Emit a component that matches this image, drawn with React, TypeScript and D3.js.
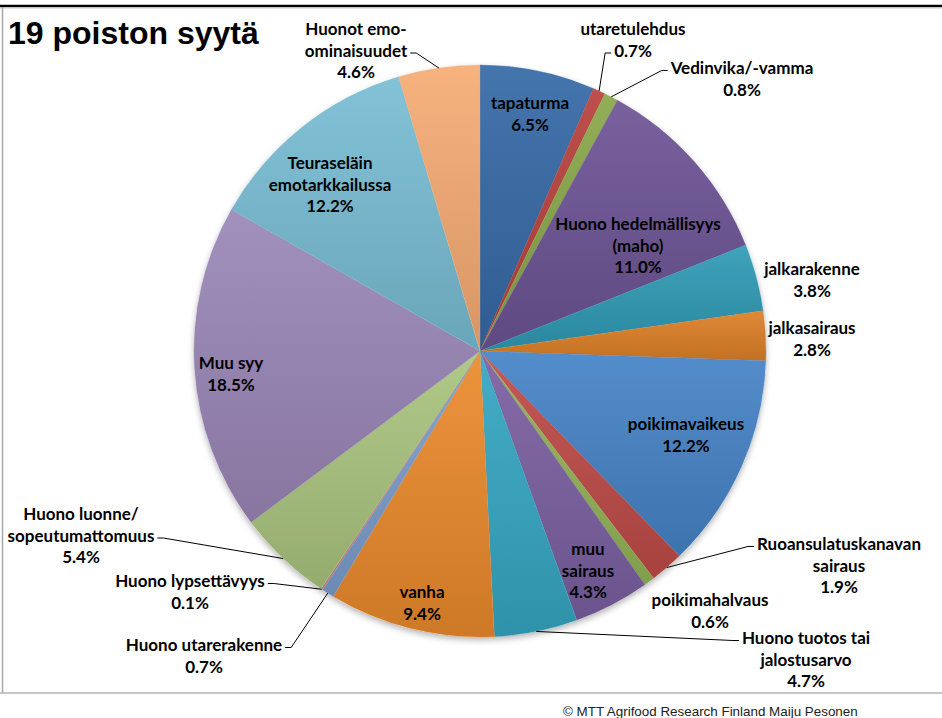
import React, { useEffect, useRef } from 'react';
import * as d3 from 'd3';

// ---- data ----
const categories = [
  'tapaturma', 'utaretulehdus', 'Vedinvika/-vamma', 'Huono hedelmällisyys (maho)',
  'jalkarakenne', 'jalkasairaus', 'poikimavaikeus', 'Ruoansulatuskanavan sairaus',
  'poikimahalvaus', 'muu sairaus', 'Huono tuotos tai jalostusarvo', 'vanha',
  'Huono utarerakenne', 'Huono lypsettävyys', 'Huono luonne/ sopeutumattomuus',
  'Muu syy', 'Teuraseläin emotarkkailussa', 'Huonot emo-ominaisuudet',
];
const values = [6.5, 0.7, 0.8, 11.0, 3.8, 2.8, 12.2, 1.9, 0.6, 4.3, 4.7, 9.4, 0.7, 0.1, 5.4, 18.5, 12.2, 4.6];
const labelLines = [
  ['tapaturma'], ['utaretulehdus'], ['Vedinvika/-vamma'], ['Huono hedelmällisyys', '(maho)'],
  ['jalkarakenne'], ['jalkasairaus'], ['poikimavaikeus'], ['Ruoansulatuskanavan', 'sairaus'],
  ['poikimahalvaus'], ['muu', 'sairaus'], ['Huono tuotos tai', 'jalostusarvo'], ['vanha'],
  ['Huono utarerakenne'], ['Huono lypsettävyys'], ['Huono luonne/', 'sopeutumattomuus'],
  ['Muu syy'], ['Teuraseläin', 'emotarkkailussa'], ['Huonot emo-', 'ominaisuudet'],
];
const title = '19 poiston syytä';
const credit = '© MTT Agrifood Research Finland Maiju Pesonen';

// ---- styles / layout ----
const sliceColors = [
  '#3569a6', '#b7413e', '#89a74a', '#6c5394', '#2f9ab5', '#dc7f27',
  '#4583c6', '#be4b48', '#92b356', '#7a5fa0', '#35a6c2', '#ea8a2c',
  '#7c9dcc', '#cc8583', '#a9c47e', '#9a86b7', '#78bdd3', '#f5ab74',
];
// label block placement: center x, first-line y; leader: line index + side
const labelLayout: { x: number; y: number; leader?: { line: number; side: 'left' | 'right' } }[] = [
  { x: 530, y: 102 },
  { x: 633, y: 28, leader: { line: 1, side: 'left' } },
  { x: 742, y: 67, leader: { line: 0, side: 'left' } },
  { x: 638, y: 223 },
  { x: 812, y: 268 },
  { x: 812, y: 327 },
  { x: 686, y: 423 },
  { x: 839, y: 543, leader: { line: 0, side: 'left' } },
  { x: 710, y: 599 },
  { x: 588, y: 548 },
  { x: 806, y: 637, leader: { line: 0, side: 'left' } },
  { x: 422, y: 591 },
  { x: 204, y: 644, leader: { line: 0, side: 'right' } },
  { x: 190, y: 580, leader: { line: 0, side: 'right' } },
  { x: 81, y: 513, leader: { line: 1, side: 'right' } },
  { x: 231, y: 362 },
  { x: 330, y: 162 },
  { x: 356, y: 28, leader: { line: 1, side: 'right' } },
];

const W = 942, H = 718;
const CX = 480, CY = 351, R = 286;
const LINE_H = 21.5;

export default function App() {
  const ref = useRef<SVGSVGElement>(null);
  useEffect(() => {
    const svg = d3.select(ref.current);
    svg.selectAll('*').remove();
    const defs = svg.append('defs');
    const f = defs.append('filter').attr('id', 'sh').attr('x', '-10%').attr('y', '-10%').attr('width', '120%').attr('height', '125%');
    f.append('feDropShadow').attr('dx', 0).attr('dy', 3).attr('stdDeviation', 3).attr('flood-color', '#000').attr('flood-opacity', 0.3);

    sliceColors.forEach((c, i) => {
      const g = defs.append('linearGradient').attr('id', 'g' + i).attr('x1', 0).attr('y1', 0).attr('x2', 0).attr('y2', 1);
      g.append('stop').attr('offset', '0%').attr('stop-color', d3.interpolateRgb(c, '#fff')(0.08));
      g.append('stop').attr('offset', '100%').attr('stop-color', d3.interpolateRgb(c, '#000')(0.12));
    });

    svg.append('rect').attr('width', W).attr('height', H).attr('fill', '#fff');

    // frame
    svg.append('line').attr('x1', 0).attr('x2', W).attr('y1', 6).attr('y2', 6).attr('stroke', '#000').attr('stroke-width', 2.5);
    svg.append('line').attr('x1', 0).attr('x2', W).attr('y1', 8).attr('y2', 8).attr('stroke', '#c8c8c8').attr('stroke-width', 1);
    svg.append('line').attr('x1', 2.5).attr('x2', 2.5).attr('y1', 7).attr('y2', 693).attr('stroke', '#a8a8a8').attr('stroke-width', 1.5);
    svg.append('line').attr('x1', 0).attr('x2', W).attr('y1', 693).attr('y2', 693).attr('stroke', '#b4b4b4').attr('stroke-width', 1.5);

    svg.append('text').attr('x', 8).attr('y', 44).text(title)
      .attr('font-family', '"Liberation Sans", Arial, sans-serif').attr('font-weight', 'bold').attr('font-size', 32).attr('fill', '#000');

    svg.append('text').attr('x', 563).attr('y', 716).text(credit)
      .attr('font-family', '"Liberation Sans", Arial, sans-serif').attr('font-size', 13.4).attr('fill', '#222');

    const pie = d3.pie<number>().sort(null).value(d => d).startAngle(0).endAngle(2 * Math.PI);
    const arcs = pie(values);
    const arc = d3.arc<d3.PieArcDatum<number>>().innerRadius(0).outerRadius(R);

    const gp = svg.append('g').attr('transform', `translate(${CX},${CY})`);
    gp.append('circle').attr('r', R).attr('fill', '#fff').attr('filter', 'url(#sh)');
    gp.selectAll('path.s').data(arcs).enter().append('path').attr('class', 's')
      .attr('d', arc as any)
      .attr('fill', (_d, i) => `url(#g${i})`)
      .attr('stroke', (_d, i) => sliceColors[i]).attr('stroke-width', 0.3);

    const lg = svg.append('g')
      .attr('font-family', 'Lato, "Open Sans", sans-serif').attr('font-weight', 'bold').attr('font-size', 17).attr('fill', '#000');

    arcs.forEach((a, i) => {
      const lay = labelLayout[i];
      const lines = [...labelLines[i], values[i].toFixed(1) + '%'];
      const t = lg.append('text').attr('text-anchor', 'middle').attr('dominant-baseline', 'central');
      const spans: SVGTSpanElement[] = [];
      lines.forEach((ln, k) => {
        const s = t.append('tspan').attr('x', lay.x).attr('y', lay.y + k * LINE_H).text(ln);
        spans.push(s.node() as SVGTSpanElement);
      });
      if (lay.leader) {
        const sp = spans[lay.leader.line];
        const w = sp.getComputedTextLength();
        const ly = lay.y + lay.leader.line * LINE_H + 3.5;
        const dir = lay.leader.side === 'left' ? -1 : 1;
        const x0 = lay.x + dir * (w / 2 + 3);
        const x1 = x0 + dir * 6;
        const mid = (a.startAngle + a.endAngle) / 2;
        const px = CX + Math.sin(mid) * R;
        const py = CY - Math.cos(mid) * R;
        svg.append('path').attr('d', `M${x0},${ly}L${x1},${ly}L${px},${py}`)
          .attr('fill', 'none').attr('stroke', '#000').attr('stroke-width', 1);
      }
    });
  }, []);
  return (
    <svg ref={ref} width={W} height={H} style={{ position: 'absolute', left: 0, top: 0, display: 'block' }} />
  );
}
